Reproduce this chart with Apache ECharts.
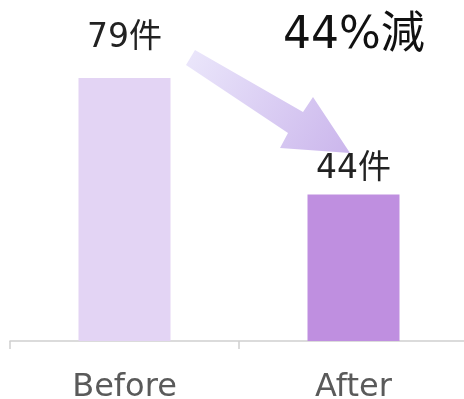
<!DOCTYPE html>
<html>
<head>
<meta charset="utf-8">
<script src="https://cdn.jsdelivr.net/npm/echarts@6/dist/echarts.min.js"></script>
<style>
  html, body { margin: 0; padding: 0; background: #fff; }
  #chart { width: 464px; height: 399px; }
</style>
</head>
<body>
<div id="chart"></div>
<script>
var categories = ['Before', 'After'];
var counts = [79, 44];
var unit = '件';
var barColors = ['#E3D4F4', '#BF8FE0'];
var labelGaps = [23, 9];
var headline = '44%減';

var chart = echarts.init(document.getElementById('chart'));

var option = {
  animation: false,
  grid: { left: 10, right: -4, top: 8, bottom: 58, outerBoundsMode: 'none', containLabel: false },
  xAxis: {
    type: 'category',
    data: categories,
    axisLine: { lineStyle: { color: '#d0d0d0', width: 1.5 } },
    axisTick: { show: true, length: 8, lineStyle: { color: '#d0d0d0', width: 1.5 } },
    axisLabel: {
      margin: 31,
      fontSize: 32,
      color: '#5a5a5a',
      fontFamily: 'DejaVu Sans'
    }
  },
  yAxis: { type: 'value', min: 0, max: 100, show: false },
  series: [{
    type: 'bar',
    barWidth: 92,
    data: counts.map(function (v, i) {
      return {
        value: v,
        itemStyle: { color: barColors[i] },
        label: { distance: labelGaps[i] }
      };
    }),
    label: {
      show: true,
      position: 'top',
      fontSize: 33,
      color: '#222',
      fontFamily: 'DejaVu Sans, Noto Sans CJK JP',
      formatter: function (p) { return p.value + unit; }
    }
  }],
  graphic: [
    {
      type: 'text',
      left: 283,
      top: 15,
      style: {
        text: headline,
        fontSize: 44,
        fill: '#111',
        fontFamily: 'DejaVu Sans, Noto Sans CJK JP'
      }
    },
    {
      // arrow from Before to After
      type: 'polygon',
      shape: {
        points: [[195, 50], [303, 112], [313, 97], [350, 153], [280, 148], [288, 133], [186, 65]]
      },
      style: {
        fill: new echarts.graphic.LinearGradient(0, 0, 1, 1, [
          { offset: 0, color: '#EBE7FB' },
          { offset: 1, color: '#CBB6EC' }
        ])
      }
    }
  ]
};

chart.setOption(option);
</script>
</body>
</html>
